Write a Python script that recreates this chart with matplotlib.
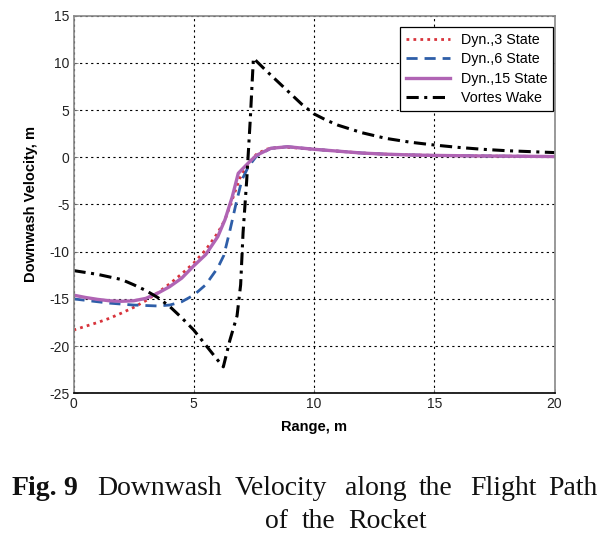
import matplotlib
matplotlib.use("Agg")
import matplotlib.pyplot as plt

# ---------------- data ----------------
x_dyn3 = [0, 0.5, 1, 1.5, 2, 2.5, 3, 3.5, 4, 4.5, 5, 5.5, 6, 6.3, 6.6, 6.9, 7.2, 7.6, 8, 8.5, 9, 9.5,
          10, 11, 12, 13, 14, 15, 16, 17, 18, 19, 20]
y_dyn3 = [-18.3, -17.9, -17.5, -17.05, -16.5, -15.9, -15.2, -14.35, -13.4, -12.35, -11.2, -9.8, -8.0,
          -6.6, -4.5, -2.3, -0.9, 0.3, 0.85, 1.05, 1.05, 0.95, 0.85, 0.65, 0.45, 0.33, 0.25, 0.2,
          0.17, 0.14, 0.12, 0.1, 0.08]

x_dyn6 = [0, 0.5, 1, 1.5, 2, 2.5, 3, 3.5, 4, 4.5, 5, 5.5, 6, 6.25, 6.5, 6.75, 7.0, 7.27, 7.6, 8.2, 8.9,
          10, 11, 12, 13, 14, 15, 16, 17, 18, 19, 20]
y_dyn6 = [-15.0, -15.15, -15.3, -15.45, -15.55, -15.65, -15.7, -15.75, -15.65, -15.3, -14.6, -13.5,
          -11.7, -10.4, -7.8, -5.0, -2.4, -1.0, 0.1, 0.95, 1.12, 0.85, 0.65, 0.45, 0.33, 0.25, 0.2,
          0.17, 0.14, 0.12, 0.1, 0.08]

x_dyn15 = [0, 0.5, 1, 1.5, 2, 2.5, 3, 3.5, 4, 4.5, 5, 5.5, 6, 6.3, 6.6, 6.85, 7.0, 7.27, 7.6, 8.2, 8.9,
           10, 11, 12, 13, 14, 15, 16, 17, 18, 19, 20]
y_dyn15 = [-14.6, -14.85, -15.05, -15.2, -15.25, -15.2, -14.95, -14.4, -13.7, -12.8, -11.5, -10.3,
           -8.4, -6.6, -4.2, -1.7, -1.3, -0.6, 0.2, 0.95, 1.12, 0.85, 0.65, 0.45, 0.33, 0.25, 0.2,
           0.17, 0.14, 0.12, 0.1, 0.08]

x_vortex = [0, 1, 2, 2.5, 3, 3.5, 4, 4.5, 5, 5.5, 6, 6.23, 6.5, 6.8, 6.95, 7.05, 7.2, 7.35, 7.48,
            8, 8.5, 9, 9.5, 10, 10.5, 11, 12, 13, 14, 15, 16, 17, 18, 19, 20]
y_vortex = [-12.0, -12.4, -12.95, -13.5, -14.1, -14.85, -15.8, -17.0, -18.3, -19.9, -21.5, -22.2,
            -19.4, -16.8, -13.5, -8.0, -2.5, 4.0, 10.5, 9.2, 8.0, 6.8, 5.6, 4.6, 3.95, 3.4, 2.6,
            2.0, 1.6, 1.3, 1.05, 0.85, 0.7, 0.6, 0.5]

labels = ["Dyn.,3 State", "Dyn.,6 State", "Dyn.,15 State", "Vortes Wake"]
x_ticks = [0, 5, 10, 15, 20]
y_ticks = [-25, -20, -15, -10, -5, 0, 5, 10, 15]

caption1 = ["Fig.", "9", "Downwash", "Velocity", "along", "the", "Flight", "Path"]
caption2 = ["of", "the", "Rocket"]

# ---------------- figure ----------------
W, H = 615, 537
fig = plt.figure(figsize=(W / 100, H / 100), dpi=100)
ax_l, ax_r, ax_t, ax_b = 73.5, 554.5, 15.7, 393.3
ax = fig.add_axes([ax_l / W, 1 - ax_b / H, (ax_r - ax_l) / W, (ax_b - ax_t) / H])

sans = "Liberation Sans"
serif = "Liberation Serif"

ax.plot(x_dyn3, y_dyn3, color="#d8333b", lw=2.0, linestyle=(0, (1, 1.5)), label=labels[0])
ax.plot(x_dyn6, y_dyn6, color="#2e5ea8", lw=2.0, linestyle=(0, (4, 2.5)), label=labels[1])
ax.plot(x_dyn15, y_dyn15, color="#b064b4", lw=2.4, linestyle="-", label=labels[2])
ax.plot(x_vortex, y_vortex, color="black", lw=2.2, linestyle=(0, (4, 1.8, 1, 1.8)), label=labels[3])

ax.set_xlim(0, 20)
ax.set_ylim(-25, 15)
ax.set_xticks(x_ticks)
ax.set_yticks(y_ticks)
ax.set_xticklabels([str(v) for v in x_ticks], fontfamily=sans, fontsize=10, color="#222222")
ax.set_yticklabels([str(v) for v in y_ticks], fontfamily=sans, fontsize=10, color="#222222")
ax.tick_params(direction="in", length=3, width=0.6, colors="#777777", labelcolor="#222222", pad=3)

ax.grid(True, color="black", linestyle=(0, (2, 3)), linewidth=0.8)
for side in ["left", "right", "top"]:
    ax.spines[side].set_color("#888888")
    ax.spines[side].set_linewidth(1.2)
ax.spines["bottom"].set_color("black")
ax.spines["bottom"].set_linewidth(1.2)

ax.set_xlabel("Range, m", fontfamily=sans, fontsize=10.5, fontweight="bold", labelpad=6)
ax.set_ylabel("Downwash Velocity, m", fontfamily=sans, fontsize=10.5, fontweight="bold", labelpad=8)

leg = ax.legend(loc="upper right",
                bbox_to_anchor=((553 - ax_l) / (ax_r - ax_l), (ax_b - 27) / (ax_b - ax_t)),
                prop={"family": sans, "size": 10.3}, frameon=True, fancybox=False,
                framealpha=1, edgecolor="black", handlelength=3.1, handletextpad=0.75,
                labelspacing=0.38, borderpad=0.4, borderaxespad=0.0)
leg.get_frame().set_linewidth(0.9)

# ---------------- caption ----------------
x1 = [12, 63, 97, 235, 345, 419, 470, 548]
for word, xp in zip(caption1, x1):
    fig.text(xp / W, 1 - 495 / H, word, fontfamily=serif, fontsize=20,
             fontweight="bold" if word in ("Fig.", "9") else "normal",
             ha="left", va="baseline", color="#111111")
x2 = [265, 302, 348]
for word, xp in zip(caption2, x2):
    fig.text(xp / W, 1 - 528 / H, word, fontfamily=serif, fontsize=20,
             ha="left", va="baseline", color="#111111")

fig.savefig("out.png", dpi=100)
